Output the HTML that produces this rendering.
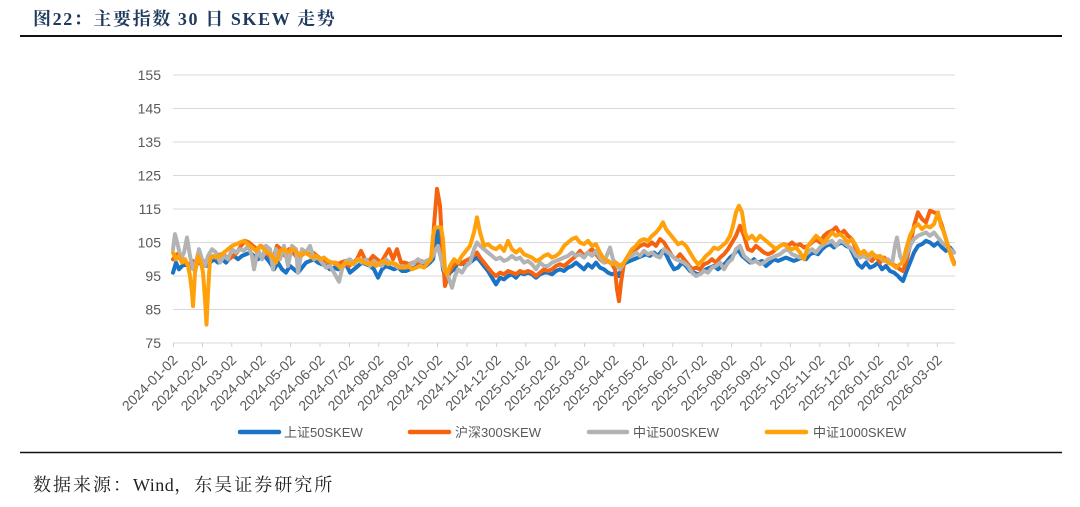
<!DOCTYPE html>
<html>
<head>
<meta charset="utf-8">
<style>
html,body{margin:0;padding:0;background:#fff;}
body{width:1080px;height:507px;overflow:hidden;}
svg{display:block;}
.ax{font-family:"Liberation Sans","Noto Sans CJK SC",sans-serif;fill:#595959;}
.s{fill:none;stroke-width:4;stroke-linejoin:round;stroke-linecap:round;}
</style>
</head>
<body>
<svg width="1080" height="507" viewBox="0 0 1080 507" xmlns="http://www.w3.org/2000/svg">
<rect width="1080" height="507" fill="#fff"/>
<!-- Title -->
<text x="33" y="25" font-family="Liberation Serif, Noto Serif CJK SC, serif" font-weight="bold" font-size="18" letter-spacing="1.6" fill="#1f3a5f">图22：主要指数 30 日 SKEW 走势</text>
<line x1="20" y1="36" x2="1062" y2="36" stroke="#111" stroke-width="2"/>

<!-- gridlines -->
<g stroke="#d9d9d9" stroke-width="1">
<line x1="173" y1="75" x2="955" y2="75"/>
<line x1="173" y1="108.5" x2="955" y2="108.5"/>
<line x1="173" y1="142" x2="955" y2="142"/>
<line x1="173" y1="175.5" x2="955" y2="175.5"/>
<line x1="173" y1="209" x2="955" y2="209"/>
<line x1="173" y1="242.5" x2="955" y2="242.5"/>
<line x1="173" y1="276" x2="955" y2="276"/>
<line x1="173" y1="309.5" x2="955" y2="309.5"/>
<line x1="173" y1="343" x2="955" y2="343"/>
</g>
<!-- ticks -->
<g stroke="#d0d0d0" stroke-width="1">
<line x1="173.5" y1="343" x2="173.5" y2="347"/><line x1="202.4" y1="343" x2="202.4" y2="347"/><line x1="231.8" y1="343" x2="231.8" y2="347"/><line x1="261.2" y1="343" x2="261.2" y2="347"/><line x1="290.6" y1="343" x2="290.6" y2="347"/><line x1="320" y1="343" x2="320" y2="347"/><line x1="349.4" y1="343" x2="349.4" y2="347"/><line x1="378.8" y1="343" x2="378.8" y2="347"/><line x1="408.2" y1="343" x2="408.2" y2="347"/><line x1="437.6" y1="343" x2="437.6" y2="347"/><line x1="467" y1="343" x2="467" y2="347"/><line x1="496.4" y1="343" x2="496.4" y2="347"/><line x1="525.8" y1="343" x2="525.8" y2="347"/><line x1="555.2" y1="343" x2="555.2" y2="347"/><line x1="584.6" y1="343" x2="584.6" y2="347"/><line x1="614" y1="343" x2="614" y2="347"/><line x1="643.4" y1="343" x2="643.4" y2="347"/><line x1="672.8" y1="343" x2="672.8" y2="347"/><line x1="702.2" y1="343" x2="702.2" y2="347"/><line x1="731.6" y1="343" x2="731.6" y2="347"/><line x1="761" y1="343" x2="761" y2="347"/><line x1="790.4" y1="343" x2="790.4" y2="347"/><line x1="819.8" y1="343" x2="819.8" y2="347"/><line x1="849.2" y1="343" x2="849.2" y2="347"/><line x1="878.6" y1="343" x2="878.6" y2="347"/><line x1="908" y1="343" x2="908" y2="347"/><line x1="937.4" y1="343" x2="937.4" y2="347"/>
</g>

<!-- y labels -->
<g class="ax" font-size="14" text-anchor="end">
<text x="161" y="80">155</text>
<text x="161" y="113.5">145</text>
<text x="161" y="147">135</text>
<text x="161" y="180.5">125</text>
<text x="161" y="214">115</text>
<text x="161" y="247.5">105</text>
<text x="161" y="281">95</text>
<text x="161" y="314.5">85</text>
<text x="161" y="348">75</text>
</g>

<!-- x labels -->
<g class="ax" font-size="14" text-anchor="end">
<text transform="translate(178.5,361) rotate(-45)">2024-01-02</text>
<text transform="translate(207.9,361) rotate(-45)">2024-02-02</text>
<text transform="translate(237.3,361) rotate(-45)">2024-03-02</text>
<text transform="translate(266.7,361) rotate(-45)">2024-04-02</text>
<text transform="translate(296.1,361) rotate(-45)">2024-05-02</text>
<text transform="translate(325.5,361) rotate(-45)">2024-06-02</text>
<text transform="translate(354.9,361) rotate(-45)">2024-07-02</text>
<text transform="translate(384.3,361) rotate(-45)">2024-08-02</text>
<text transform="translate(413.7,361) rotate(-45)">2024-09-02</text>
<text transform="translate(443.1,361) rotate(-45)">2024-10-02</text>
<text transform="translate(472.5,361) rotate(-45)">2024-11-02</text>
<text transform="translate(501.9,361) rotate(-45)">2024-12-02</text>
<text transform="translate(531.3,361) rotate(-45)">2025-01-02</text>
<text transform="translate(560.7,361) rotate(-45)">2025-02-02</text>
<text transform="translate(590.1,361) rotate(-45)">2025-03-02</text>
<text transform="translate(619.5,361) rotate(-45)">2025-04-02</text>
<text transform="translate(648.9,361) rotate(-45)">2025-05-02</text>
<text transform="translate(678.3,361) rotate(-45)">2025-06-02</text>
<text transform="translate(707.7,361) rotate(-45)">2025-07-02</text>
<text transform="translate(737.1,361) rotate(-45)">2025-08-02</text>
<text transform="translate(766.5,361) rotate(-45)">2025-09-02</text>
<text transform="translate(795.9,361) rotate(-45)">2025-10-02</text>
<text transform="translate(825.3,361) rotate(-45)">2025-11-02</text>
<text transform="translate(854.7,361) rotate(-45)">2025-12-02</text>
<text transform="translate(884.1,361) rotate(-45)">2026-01-02</text>
<text transform="translate(913.5,361) rotate(-45)">2026-02-02</text>
<text transform="translate(942.9,361) rotate(-45)">2026-03-02</text>
</g>

<!-- series -->
<g transform="translate(0,343) scale(1,-3.35) translate(0,-75)">
<polyline class="s" vector-effect="non-scaling-stroke" stroke="#1a73c4" points="173,96 176,99 179,97 182,98 186,98.5 190,97.5 194,98 198,99 202,98.5 206,98 210,99 214,100 218,99 222,100 226,99 230,100.5 234,101 238,100 242,101 246,101.5 250,102 254,101 258,100 262,101 266,100.5 270,99 274,97 278,99 282,97 286,96 290,98 294,97 298,96 302,97.5 306,99 310,99.5 314,100 318,99 322,98.5 326,98 330,97 334,97.5 338,97 342,98 346,98.5 350,96 354,97 358,98 362,99 366,98.5 370,98 374,97 378,94.5 382,97 386,98 390,97.5 394,97 398,97.5 402,96.5 406,96.5 410,97 414,97.5 418,98 422,98.5 426,98 430,99 433,100 436,105 438,108.5 440,104 443,97 446,94 450,96 454,97 458,99 462,99 466,98 470,99 474,100 477,100.5 480,99.5 484,98 488,96.5 492,94.5 496,92.5 500,94.5 504,94 508,95 512,95.5 516,94.5 520,96 524,95.5 528,96 532,95.5 536,94.5 540,95.5 544,96 548,96 552,95.5 556,96.5 560,97 564,96.5 568,97.5 572,98 576,99 580,98 584,97 588,98.5 592,97.5 596,99 600,97.5 604,97 608,96 612,95.5 616,96 619,95 622,98 626,99 630,99.5 634,100 638,100.5 642,101 646,101.5 650,101 654,102 658,101 662,102.5 666,101.5 670,99 674,97 678,97.5 682,99 686,98 690,96.5 694,96 698,95.5 702,96 706,97 710,97.5 714,98 718,97 722,98 726,99 730,100.5 734,101.5 738,103 742,101 746,100 750,99 754,100 758,99 762,99.5 766,98 770,99 774,100 778,99.5 782,100 786,100.5 790,100 794,99.5 798,100 802,100.5 806,100 810,101.5 814,102 818,101.5 822,103 826,104 830,104.5 834,103.5 838,104.5 842,105 846,104 850,103.5 854,101 858,98.5 862,97.5 866,99 870,97.5 874,98 878,99 882,97 886,98 890,96.5 894,96 898,95 901,94 903,93.5 906,96 910,99 914,102 918,104 922,104.5 926,105.5 930,105 934,104 938,105 942,103.5 946,102.5 950,103.5 954,102"/>
<polyline class="s" vector-effect="non-scaling-stroke" stroke="#f5630f" points="173,100 177,101.5 181,100 185,99 189,98.5 193,99.5 197,98.5 201,100 205,99 209,101 213,100.5 217,101 221,101.5 225,101 229,100 233,101 237,102 241,104 245,105.5 249,105 253,104 257,103 261,104 265,103 269,101 273,100 277,104 281,103 285,101 289,103 293,102 297,100.5 301,101 305,102 309,101.5 313,102 317,101 321,100 325,99.5 329,99 333,99 337,98.5 341,99 345,99.5 349,98 353,99 357,100 361,102.5 365,100 369,99.5 373,101 377,100 381,99 385,101 389,103 393,100 397,103 401,99 405,99 409,98.5 413,99 417,99 421,99.5 425,99 429,99.5 432,101 434,110 437,121 440,116 442,105 445,92 449,96 453,98 457,99 461,98.5 465,99.5 469,100 473,101 477,102 480,100.5 484,99 488,97.5 492,96 496,95 500,96 504,95.5 508,96.5 512,96 516,95.5 520,96.5 524,96 528,96.5 532,96 536,95 540,96 544,97 548,96.5 552,97 556,98 560,98.5 564,98 568,99 572,100 576,101 580,102.5 584,101 588,102 592,103 596,101.5 600,100 604,99 608,99.5 612,98.5 615,97 617,91 619,87.5 621,93 624,99 628,101 632,102 636,103 640,104 644,104.5 648,104 652,105 656,104 660,106 664,105 668,103 672,101 676,100 680,101.5 684,100 688,98.5 692,97 696,97.5 700,97 704,98.5 708,99 712,100 716,99 720,100.5 724,101.5 728,103 732,105 736,107 740,110 744,107 748,103 752,102.5 756,104 760,103 764,102 768,101.5 772,102 776,103 780,104 784,104.5 788,104 792,105 796,104 800,104.5 804,103.5 808,104 812,105 816,106 820,105 824,107 828,108 832,108.5 836,109.5 840,107.5 844,108.5 848,107 852,106 856,103 860,100.5 864,102 868,100.5 872,99.5 876,101 880,99 884,100.5 888,99.5 892,98.5 896,98 900,97 903,96.5 906,99 910,104 914,110 918,114 922,112 926,111 930,114.5 934,114 938,113.5 942,110 946,106 950,102 954,99"/>
<polyline class="s" vector-effect="non-scaling-stroke" stroke="#b3b3b3" points="173,103 175,107.5 178,104 181,100 184,102 187,106.5 190,101 193,97 196,99 199,103 202,100 205,98 208,101 212,103 216,102 220,99 224,101 228,100 232,103 236,102 240,103 244,102.5 248,104 252,101 254,97 258,103 262,100 266,104 270,103 273,97 276,103 280,100 284,104 288,98 292,104 296,103 298,96 302,103 306,102 310,104 314,100 318,100.5 322,99 326,97.5 330,98 334,96 339,93.3 342,97 346,99.5 350,100 354,98.5 358,100 362,99 366,100 370,98 374,99.5 378,98.5 382,98 386,100 390,99 394,98.5 398,97.5 402,98 406,97.5 410,98.5 414,99 418,100 422,99 426,99.5 430,100 433,101 436,103 438,104 441,100 444,97 448,95 452,91.5 455,95 458,97 462,96 466,98 470,99 474,103 477,105 480,104 484,103 488,102 492,101 496,100 500,100.5 504,99.5 508,100 512,101 516,100 520,100.5 524,99 528,99.5 532,98.5 536,97 540,99 544,98 548,98 552,99 556,99.5 560,100 564,100.5 568,101 572,102 576,101 580,101.5 584,100.5 588,102 592,101 596,102.5 600,100.5 604,99 608,102 610,103.5 613,100 617,98 620,97 624,99 628,100.5 632,101 636,102 640,101 644,102.5 648,101.5 652,102 656,101 660,100.5 664,103 668,102 672,101 676,100 680,99.5 684,99 688,98 692,96 696,95 700,95.5 704,96.5 708,96 712,97.5 716,98 720,99 724,97 728,99 732,100 736,103 740,104 744,101 748,100 752,99 756,99.5 760,98.5 764,99 768,100 772,100.5 776,101 780,101.5 784,102.5 788,103 792,101.5 796,101 800,100.5 804,101 808,102 812,103 816,102 820,103.5 824,104.5 828,105 832,105.5 836,104 840,105.5 844,105 848,104 852,103 856,101 860,100.5 864,101 868,100 872,101.5 876,101 880,100.5 884,99.5 888,100 892,98.5 895,104 897,106.5 900,101 903,99 906,101 910,104 914,106 918,107 922,107.5 926,108 930,107 934,108 938,106.5 942,105 946,104 950,103 954,102"/>
<polyline class="s" vector-effect="non-scaling-stroke" stroke="#ffa10a" points="173,102 176,100 179,101 182,99 185,100 188,98 190,95 192,90 193,86 195,96 198,101 201,99 203,96 205,88 206.5,80.5 208,90 210,100 213,101 216,100.5 220,101 224,102 228,103 232,104 236,104.5 240,105 244,105.5 248,104.5 252,103.5 256,102.5 260,104 264,103 268,102 272,101 276,99 280,102.5 284,103 288,102 292,103 296,102.5 300,101 304,102 308,101.5 312,100.5 316,101 320,100 324,100.5 328,99.5 332,99 336,99 340,97.5 344,98.5 348,99 352,98.5 356,99.5 360,100 364,99 368,98.5 372,99 376,98 380,99 384,99.5 388,98.5 392,99 396,98.5 400,97.5 404,97.5 408,98 412,97 416,97.5 420,98 424,97.5 428,99 431,100 433,107 435,109.5 438,109.5 441,109.5 443,106 445,97 447,95.5 450,98 454,100 458,99 462,101 466,102.5 470,104 474,108 477,112.5 480,108 484,104 488,104.5 492,103.5 496,103 500,104 504,102.5 508,105.5 512,103 516,102 520,103 524,101.5 528,101 532,100.5 536,99.5 540,100 544,101 548,101.5 552,100.5 556,101 560,102 564,104 568,105 572,106 576,106.5 580,105 584,104.5 588,105.5 592,104 596,104.5 600,102 604,100 608,99.5 612,98.5 616,99 620,98 624,99 628,101 632,103 636,104 640,105.5 644,106 648,105.5 652,107 656,108 660,109.5 663,111 666,109 670,107.5 674,106 678,104.5 682,105 686,104 690,102 694,100 698,98.5 702,99.5 706,101 710,102 714,103.5 718,103 722,104 726,105 730,107 733,110 736,114 739,116 742,114 745,108 748,106 752,107 756,105.5 760,107 764,106 768,105 772,104 776,103 780,104 784,104.5 788,103.5 792,103 796,103.5 800,102 804,100 808,104 812,105.5 816,107 820,106 824,105 828,106.5 832,108 836,107 840,107.5 844,106.5 848,105 852,106 856,104 860,101.5 864,102.5 868,101 872,102 876,100.5 880,101 884,100 888,99 892,98.5 896,97.5 900,98.5 903,99 906,103 910,107 914,109.5 918,110.5 922,109 926,110 930,109.5 934,110.5 938,114 941,110 944,108 948,104 952,100 954,98.5"/>
</g>

<!-- legend -->
<g stroke-width="4.5" stroke-linecap="round">
<line x1="240" y1="432" x2="279" y2="432" stroke="#1a73c4"/>
<line x1="410" y1="432" x2="449" y2="432" stroke="#f5630f"/>
<line x1="589" y1="432" x2="627" y2="432" stroke="#b3b3b3"/>
<line x1="767" y1="432" x2="806" y2="432" stroke="#ffa10a"/>
</g>
<g class="ax" font-size="13">
<text x="284" y="437">上证50SKEW</text>
<text x="455" y="437">沪深300SKEW</text>
<text x="633" y="437">中证500SKEW</text>
<text x="813" y="437">中证1000SKEW</text>
</g>

<!-- bottom rule and source -->
<line x1="20" y1="452.5" x2="1062" y2="452.5" stroke="#111" stroke-width="1.6"/>
<text x="33" y="491" font-family="Liberation Serif, Noto Serif CJK SC, serif" font-size="18" letter-spacing="2" fill="#222">数据来源：<tspan letter-spacing="0.5">Wind</tspan>，东吴证券研究所</text>
</svg>
</body>
</html>
